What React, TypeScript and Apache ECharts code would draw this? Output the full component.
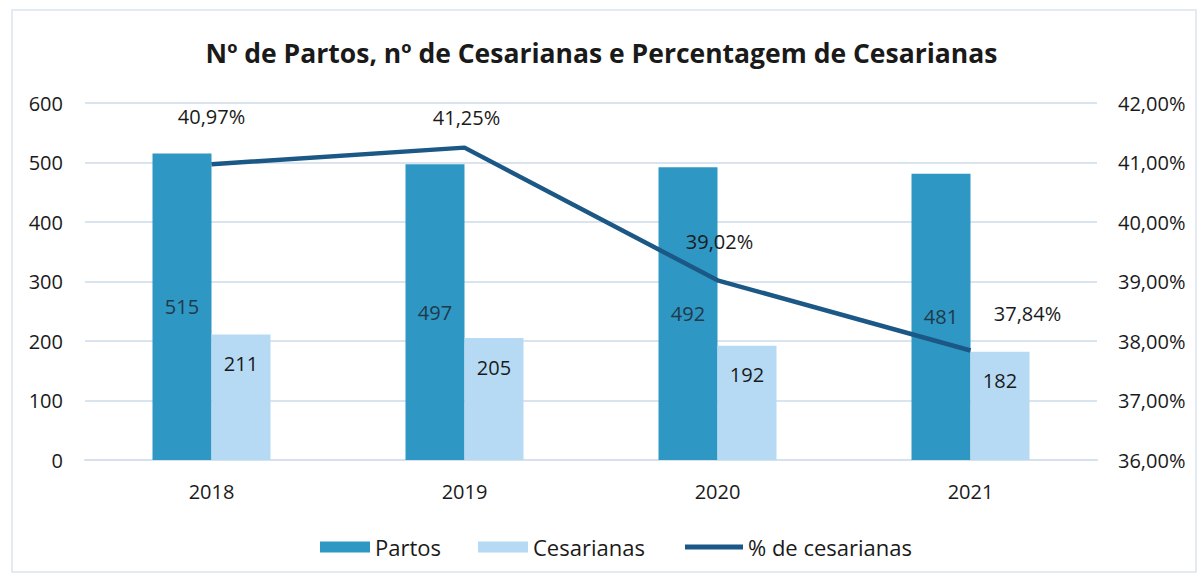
import React, { useEffect, useRef } from "react";
import * as echarts from "echarts";

const categories = ["2018", "2019", "2020", "2021"];
const partos = [515, 497, 492, 481];
const cesarianas = [211, 205, 192, 182];
const percentagem = [40.97, 41.25, 39.02, 37.84];

const FONT = "Open Sans";
const fmtPct = (v: number) => v.toFixed(2).replace(".", ",") + "%";

export default function App() {
  const ref = useRef<HTMLDivElement>(null);
  useEffect(() => {
    document.body.style.margin = "0";
    const chart = echarts.init(ref.current!, null, { renderer: "svg" });
    const lineLabels = [
      { distance: 38, offset: [0, 0] },
      { distance: 20, offset: [2, 0] },
      { distance: 29, offset: [2, 0] },
      { distance: 27, offset: [57, 0] },
    ];
    chart.setOption({
      animation: false,
      backgroundColor: "#ffffff",
      textStyle: { fontFamily: FONT },
      title: {
        text: "Nº de Partos, nº de Cesarianas e Percentagem de Cesarianas",
        left: "center",
        top: 34,
        textStyle: { fontFamily: FONT, fontWeight: "bold", fontSize: 26.5, color: "#1a1a1a" },
      },
      graphic: [
        {
          type: "rect",
          shape: { x: 12, y: 10, width: 1184, height: 562 },
          style: { fill: "none", stroke: "#e3eaf2", lineWidth: 2 },
          silent: true,
        },
      ],
      legend: [
        {
          top: 531,
          left: 315,
          itemGap: 37,
          itemWidth: 50,
          itemHeight: 11,
          icon: "rect",
          textStyle: { fontFamily: FONT, fontSize: 22, color: "#1a1a1a" },
          data: ["Partos", "Cesarianas"],
        },
        {
          top: 531,
          left: 680,
          itemWidth: 58,
          itemHeight: 5,
          icon: "rect",
          textStyle: { fontFamily: FONT, fontSize: 22, color: "#1a1a1a" },
          data: ["% de cesarianas"],
        },
      ],
      grid: { left: 85, right: 106, top: 103, bottom: 118 },
      xAxis: {
        type: "category",
        data: categories,
        axisLine: { lineStyle: { color: "#d5e1ec", width: 2 } },
        axisTick: { show: false },
        axisLabel: { margin: 21, fontSize: 20, color: "#1a1a1a", fontFamily: FONT },
      },
      yAxis: [
        {
          type: "value",
          min: 0,
          max: 600,
          interval: 100,
          axisLine: { show: false },
          axisTick: { show: false },
          splitLine: { lineStyle: { color: "#d9e4ef", width: 2 } },
          axisLabel: { margin: 22, fontSize: 20, color: "#1a1a1a", fontFamily: FONT },
        },
        {
          type: "value",
          min: 36,
          max: 42,
          interval: 1,
          axisLine: { show: false },
          axisTick: { show: false },
          splitLine: { show: false },
          axisLabel: {
            margin: 21,
            fontSize: 20,
            color: "#1a1a1a",
            fontFamily: FONT,
            formatter: fmtPct,
          },
        },
      ],
      series: [
        {
          name: "Partos",
          type: "bar",
          data: partos,
          barWidth: 59,
          barGap: "0%",
          itemStyle: { color: "#2f97c4" },
          label: {
            show: true,
            position: "inside",
            fontSize: 20,
            color: "#1f3a4a",
            fontFamily: FONT,
          },
        },
        {
          name: "Cesarianas",
          type: "bar",
          data: cesarianas,
          barWidth: 59,
          barGap: "0%",
          itemStyle: { color: "#b7daf4" },
          label: {
            show: true,
            position: "insideTop",
            distance: 19,
            fontSize: 20,
            color: "#1a1a1a",
            fontFamily: FONT,
          },
        },
        {
          name: "% de cesarianas",
          type: "line",
          yAxisIndex: 1,
          symbol: "circle",
          symbolSize: 0,
          showSymbol: true,
          data: percentagem.map((v, i) => ({
            value: v,
            label: {
              show: true,
              position: "top",
              distance: lineLabels[i].distance,
              offset: lineLabels[i].offset,
            },
          })),
          lineStyle: { color: "#1b5885", width: 4.5 },
          itemStyle: { color: "#1b5885" },
          label: {
            show: true,
            fontSize: 20,
            color: "#1a1a1a",
            fontFamily: FONT,
            formatter: (p: any) => fmtPct(p.value),
          },
          z: 5,
        },
      ],
    });
    return () => chart.dispose();
  }, []);
  return <div ref={ref} style={{ width: 1203, height: 578 }} />;
}
